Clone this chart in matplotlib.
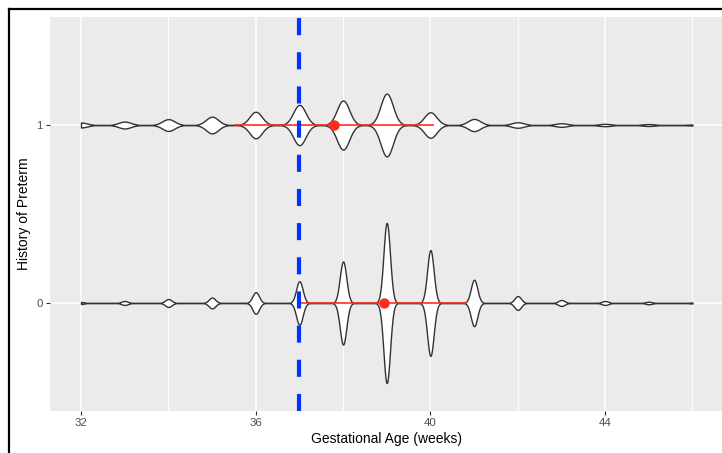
import numpy as np
import matplotlib
matplotlib.use("Agg")
import matplotlib.pyplot as plt
from matplotlib.lines import Line2D

plt.rcParams['font.family'] = ['Liberation Sans', 'DejaVu Sans']

# gestational age (weeks) and relative number of births per week
weeks = [32, 33, 34, 35, 36, 37, 38, 39, 40, 41, 42, 43, 44, 45, 46]
births_0 = [1.0, 2.0, 4.0, 5.5, 11, 22, 42, 81, 53.5, 23.5, 7.0, 3.0, 2.0, 1.3, 0.5]
births_1 = [2.5, 3.5, 6.0, 8.5, 13.5, 20.5, 25, 32, 13, 6.2, 2.8, 1.8, 1.2, 1.0, 0.5]
bandwidth = [0.075, 0.142]          # kernel bandwidth per group (weeks)
groups = [0, 1]                     # history of preterm
group_labels = ["0", "1"]

# mean and sd of gestational age per group (red point and segment)
mean_ga = [38.94, 37.79]
sd_ga = [1.87, 2.27]

cutoff = 37                         # preterm cutoff (blue dashed line)

xticks = [32, 36, 40, 44]
xminor = [34, 38, 42, 46]


def kde(counts, bw, grid):
    w = np.array(counts, dtype=float)
    w = w / w.sum()
    z = (grid[:, None] - np.array(weeks)[None, :]) / bw
    return (np.exp(-0.5 * z ** 2) * w[None, :]).sum(axis=1) / (bw * np.sqrt(2 * np.pi))


grid = np.linspace(min(weeks), max(weeks), 6000)
dens = [kde(births_0, bandwidth[0], grid), kde(births_1, bandwidth[1], grid)]
scale = 0.45 / max(d.max() for d in dens)   # ggplot "area" scaling, width 0.9

fig = plt.figure(figsize=(7.22, 4.53), dpi=100)
ax = fig.add_axes([50 / 722, 42 / 453, 673 / 722, 394 / 453])
ax.set_facecolor('#EBEBEB')
for s in ax.spines.values():
    s.set_visible(False)

ax.set_xlim(31.29, 46.70)
ax.set_ylim(-0.607, 1.607)
ax.set_xticks(xticks)
ax.set_xticks(xminor, minor=True)
ax.set_yticks(groups)
ax.set_yticklabels(group_labels)
ax.grid(True, which='major', color='white', lw=1.1)
ax.grid(True, which='minor', axis='x', color='white', lw=0.6)
ax.set_axisbelow(True)
ax.tick_params(axis='both', which='major', length=2.6, width=0.8, color='#333333',
               labelsize=8.2, labelcolor='#4D4D4D', pad=2.5)
ax.tick_params(axis='x', which='minor', length=0)

for g, d in zip(groups, dens):
    half = d * scale
    ax.fill_between(grid, g - half, g + half, facecolor='white', edgecolor='#333333',
                    lw=1.0, zorder=2)

for g, m, s in zip(groups, mean_ga, sd_ga):
    ax.plot([m - s, m + s], [g, g], color='#FF2A1A', lw=1.3, zorder=3, alpha=0.9)

ax.axvline(cutoff, color='#0033FF', lw=3.0, dashes=(4.1, 4.1), zorder=4)

for g, m in zip(groups, mean_ga):
    ax.plot(m, g, 'o', color='#FF2A1A', ms=7.5, mec='none', zorder=5)

ax.set_xlabel('Gestational Age (weeks)', fontsize=10, color='black', labelpad=3)
ax.set_ylabel('History of Preterm', fontsize=10, color='black', labelpad=4)

# black frame round the figure (cut off on the right and bottom)
fig.add_artist(Line2D([9 / 722, 9 / 722], [0, 1 - 9 / 453], transform=fig.transFigure,
                      color='black', lw=1.6))
fig.add_artist(Line2D([9 / 722, 1], [1 - 9 / 453, 1 - 9 / 453], transform=fig.transFigure,
                      color='black', lw=1.6))

fig.savefig('out.png', dpi=100)
